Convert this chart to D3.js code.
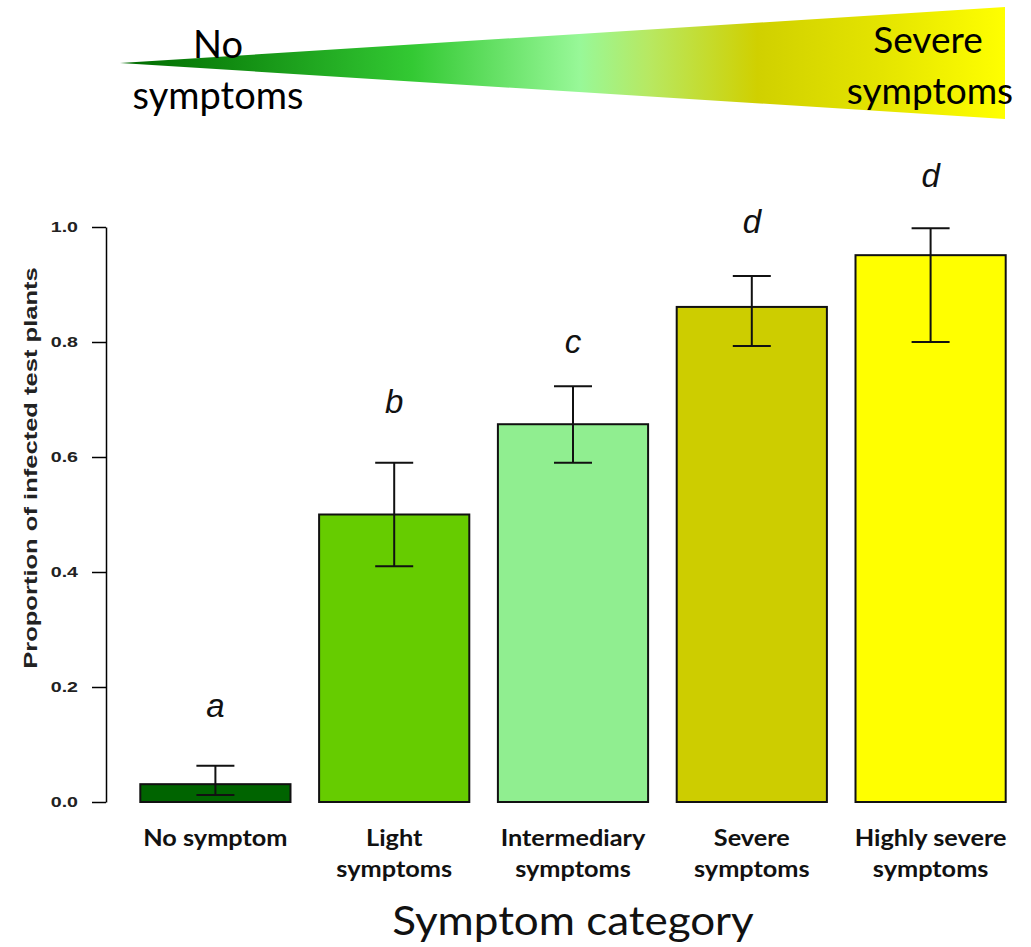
<!DOCTYPE html>
<html><head><meta charset="utf-8">
<script src="https://cdn.jsdelivr.net/npm/d3@7"></script>
<style>body{margin:0;background:#fff}svg{display:block}</style>
</head><body>
<script>
const categories = ["No symptom", "Light symptoms", "Intermediary symptoms", "Severe symptoms", "Highly severe symptoms"];
const labelLines = [["No symptom"], ["Light", "symptoms"], ["Intermediary", "symptoms"], ["Severe", "symptoms"], ["Highly severe", "symptoms"]];
const values = [0.031, 0.50, 0.657, 0.861, 0.951];
const errLow = [0.012, 0.41, 0.59, 0.793, 0.80];
const errHigh = [0.063, 0.59, 0.723, 0.915, 0.998];
const letters = ["a", "b", "c", "d", "d"];
const letterAt = [0.148, 0.677, 0.781, 0.990, 1.070];
const colors = ["#006400", "#66cc00", "#90ee90", "#cdcd00", "#ffff00"];
const yTicks = [0, 0.2, 0.4, 0.6, 0.8, 1.0];

const W = 1031, H = 947;
const svg = d3.select("body").append("svg").attr("width", W).attr("height", H);
const arial = "Arial, 'Liberation Sans', sans-serif";
const topFont = "Lato, 'Open Sans', sans-serif";

// gradient triangle
const defs = svg.append("defs");
const grad = defs.append("linearGradient").attr("id", "g").attr("x1", "0%").attr("x2", "100%");
[[0, "#006a00"], [0.12, "#108a10"], [0.33, "#33c933"], [0.52, "#98f898"], [0.6, "#b8e860"], [0.72, "#d0d000"], [0.86, "#e4e400"], [1, "#ffff00"]]
  .forEach(([o, c]) => grad.append("stop").attr("offset", o).attr("stop-color", c));
svg.append("polygon").attr("points", "120,63 1005,7 1005,119").attr("fill", "url(#g)");
[["No", 218, 58, 38], ["symptoms", 218, 109, 38], ["Severe", 928, 53, 37], ["symptoms", 930, 104, 37]]
  .forEach(([t, tx, ty, fs]) => svg.append("text").attr("x", tx).attr("y", ty).attr("text-anchor", "middle")
    .attr("font-family", topFont).attr("font-size", fs).attr("fill", "#000").text(t));

const y = d3.scaleLinear().domain([0, 1]).range([802, 227]);
const x = d3.scaleBand().domain(categories).range([126, 1020]).paddingInner(0.16).paddingOuter(0.08);

const ax = svg.append("g").attr("transform", "translate(106,0)")
  .call(d3.axisLeft(y).tickValues(yTicks).tickFormat(d3.format(".1f")).tickSize(14).tickSizeOuter(0));
ax.select(".domain").attr("stroke", "#000").attr("stroke-width", 1.5);
ax.selectAll(".tick line").attr("stroke", "#000").attr("stroke-width", 1.5);
ax.selectAll(".tick text").attr("font-family", arial).attr("font-weight", "bold")
  .attr("font-size", 14).attr("fill", "#222").attr("x", -20).attr("transform", "scale(1.4,1)");

svg.append("text").attr("transform", "translate(37,468) rotate(-90) scale(1.42,1)").attr("text-anchor", "middle")
  .attr("font-family", arial).attr("font-weight", "bold").attr("font-size", 18)
  .attr("fill", "#222").text("Proportion of infected test plants");

const data = categories.map((c, i) => ({c, v: values[i], lo: errLow[i], hi: errHigh[i], l: letters[i], la: letterAt[i], col: colors[i], lines: labelLines[i]}));

svg.selectAll("rect.bar").data(data).enter().append("rect")
  .attr("x", d => x(d.c)).attr("width", x.bandwidth())
  .attr("y", d => y(d.v)).attr("height", d => y(0) - y(d.v))
  .attr("fill", d => d.col).attr("stroke", "#111").attr("stroke-width", 2);

const cap = 19;
const eg = svg.selectAll("g.err").data(data).enter().append("g")
  .attr("transform", d => `translate(${x(d.c) + x.bandwidth() / 2},0)`);
eg.append("line").attr("y1", d => y(d.lo)).attr("y2", d => y(d.hi)).attr("stroke", "#111").attr("stroke-width", 2);
eg.append("line").attr("x1", -cap).attr("x2", cap).attr("y1", d => y(d.hi)).attr("y2", d => y(d.hi)).attr("stroke", "#111").attr("stroke-width", 2);
eg.append("line").attr("x1", -cap).attr("x2", cap).attr("y1", d => y(d.lo)).attr("y2", d => y(d.lo)).attr("stroke", "#111").attr("stroke-width", 2);
eg.append("text").attr("y", d => y(d.la)).attr("text-anchor", "middle")
  .attr("font-family", arial).attr("font-style", "italic").attr("font-size", 33)
  .attr("fill", "#111").text(d => d.l);

const xl = svg.selectAll("g.xl").data(data).enter().append("g")
  .attr("transform", d => `translate(${x(d.c) + x.bandwidth() / 2},846) scale(1.15,1)`);
xl.selectAll("text").data(d => d.lines).enter().append("text")
  .attr("y", (d, i) => i * 31).attr("text-anchor", "middle")
  .attr("font-family", topFont).attr("font-weight", "bold").attr("font-size", 22).attr("fill", "#111").text(d => d);

svg.append("text").attr("transform", "translate(573,935) scale(1.1,1)").attr("text-anchor", "middle")
  .attr("font-family", topFont).attr("font-size", 40).attr("fill", "#111").text("Symptom category");
</script>
</body></html>
